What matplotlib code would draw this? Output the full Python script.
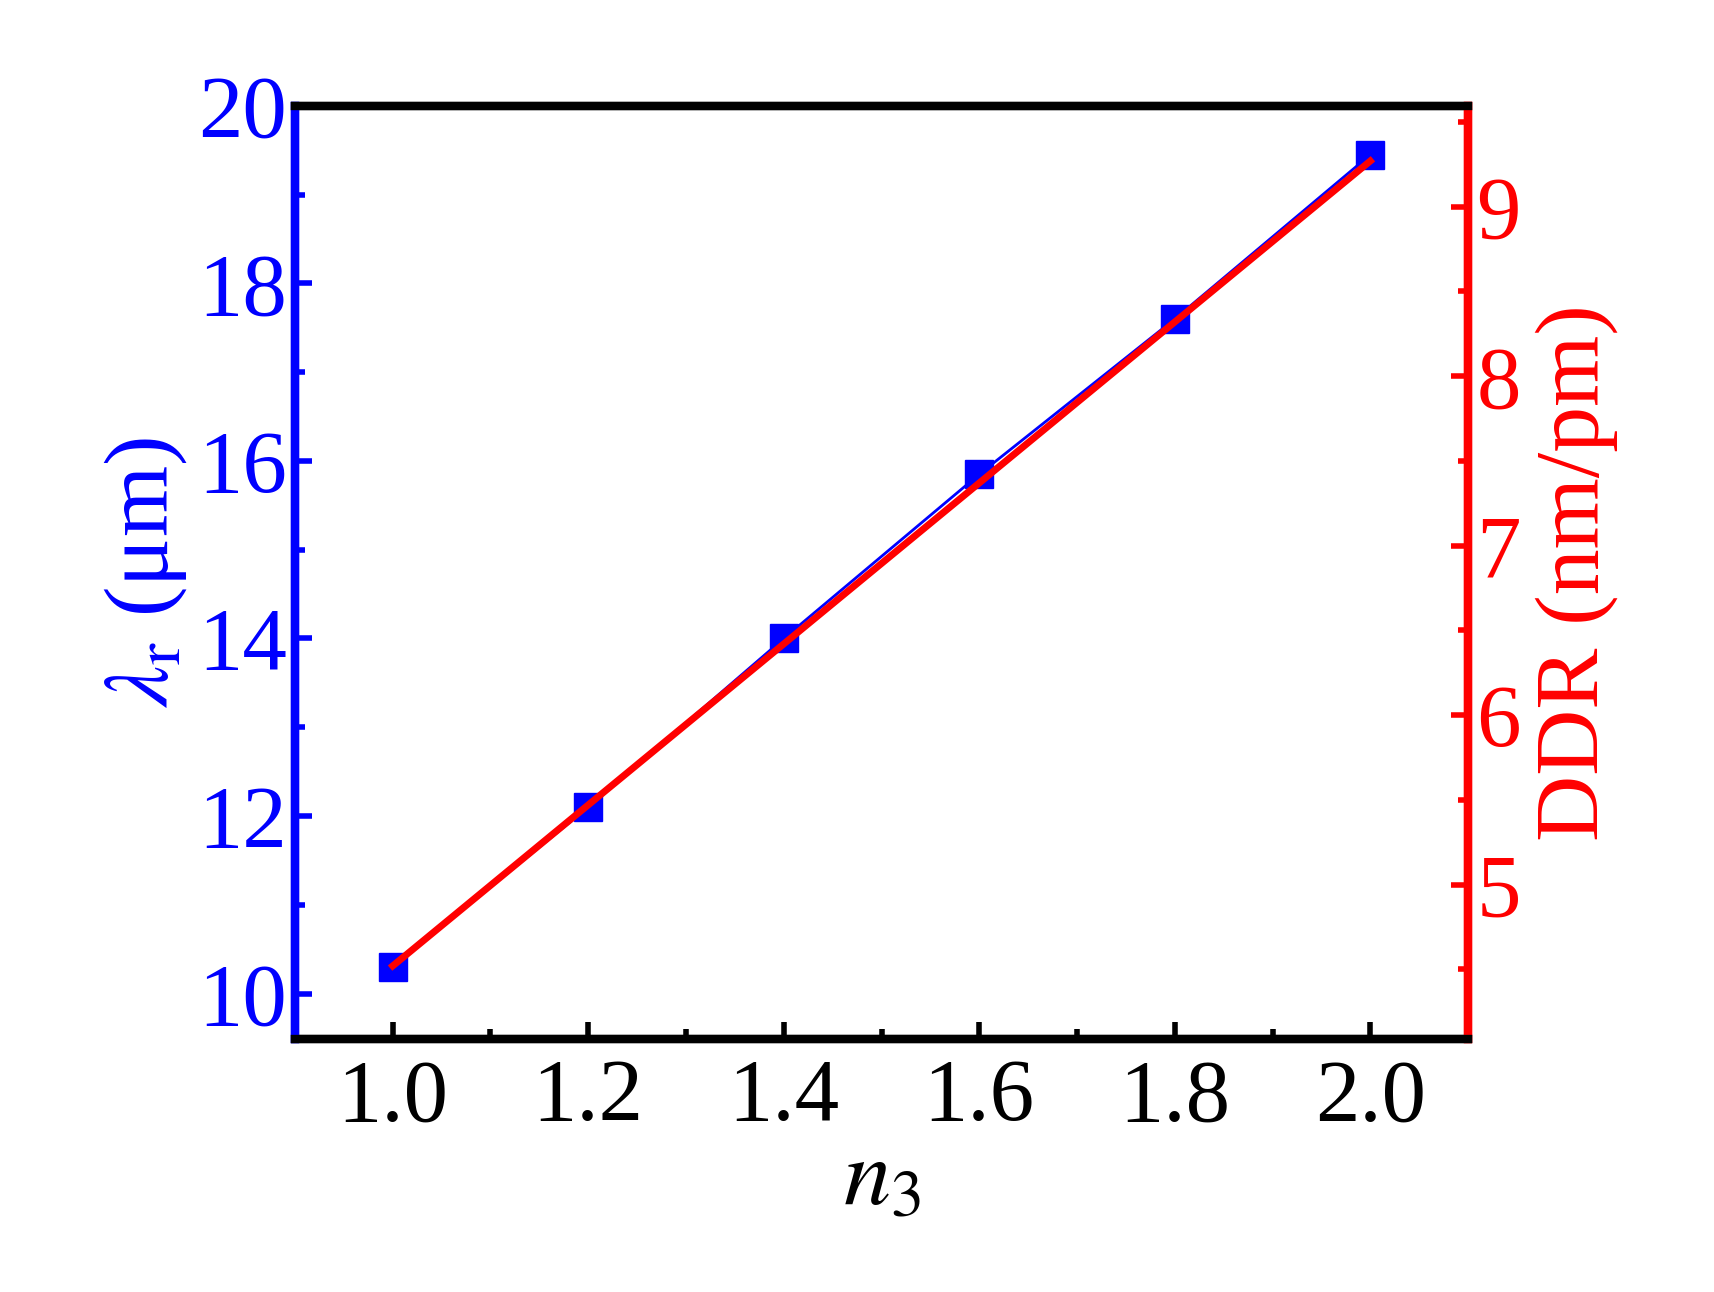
import matplotlib.pyplot as plt
import numpy as np

n3 = [1.0, 1.2, 1.4, 1.6, 1.8, 2.0]
lambda_r = [10.3, 12.1, 14.0, 15.85, 17.6, 19.45]
ddr = [4.52, 5.47, 6.42, 7.37, 8.32, 9.27]

plt.rcParams['font.family'] = ['Liberation Serif', 'DejaVu Serif']
plt.rcParams['mathtext.fontset'] = 'stix'

fig = plt.figure(figsize=(17.15, 12.92), dpi=100)
ax = fig.add_axes([0.172, 0.196, 0.684, 0.722])
ax2 = ax.twinx()

ax.plot(n3, lambda_r, color='blue', lw=2, marker='s', ms=20, zorder=3)
ax2.plot(n3, ddr, color='red', lw=5, zorder=4)

ax.set_xlim(0.9, 2.1)
ax.set_ylim(9.49, 20)
ax2.set_ylim(4.09, 9.595)
ax.set_xticks(np.arange(1.0, 2.01, 0.2))
ax.set_xticks(np.arange(1.1, 2.01, 0.2), minor=True)
ax.set_yticks([10, 12, 14, 16, 18, 20])
ax.set_yticks(np.arange(11, 20, 2), minor=True)
ax2.set_yticks([5, 6, 7, 8, 9])
ax2.set_yticks(np.arange(4.5, 9.6, 1), minor=True)

ax.tick_params(axis='x', direction='in', length=12, width=4, labelsize=64, pad=14, colors='black')
ax.tick_params(axis='x', which='minor', direction='in', length=7, width=4)
ax.tick_params(axis='y', which='both', direction='in', width=4, labelsize=64, colors='blue', left=True, right=False, pad=6)
ax.tick_params(axis='y', which='major', length=12)
ax.tick_params(axis='y', which='minor', length=7)
ax2.tick_params(axis='y', which='both', direction='in', width=4, labelsize=64, colors='red', pad=6)
ax2.tick_params(axis='y', which='major', length=12)
ax2.tick_params(axis='y', which='minor', length=7)

for a in (ax, ax2):
    for s in a.spines.values():
        s.set_linewidth(6)
    a.spines['left'].set_color('blue')
    a.spines['right'].set_color('red')
    a.spines['top'].set_color('black')
    a.spines['bottom'].set_color('black')

ax.set_xlabel(r'$n_3$', fontsize=68, labelpad=0)
ax.set_ylabel(r'$\lambda_{\mathrm{r}}$ (μm)', fontsize=66, color='blue', labelpad=6)
ax2.set_ylabel('DDR (nm/pm)', fontsize=66, color='red', labelpad=10)

fig.savefig('out.png', dpi=100)
